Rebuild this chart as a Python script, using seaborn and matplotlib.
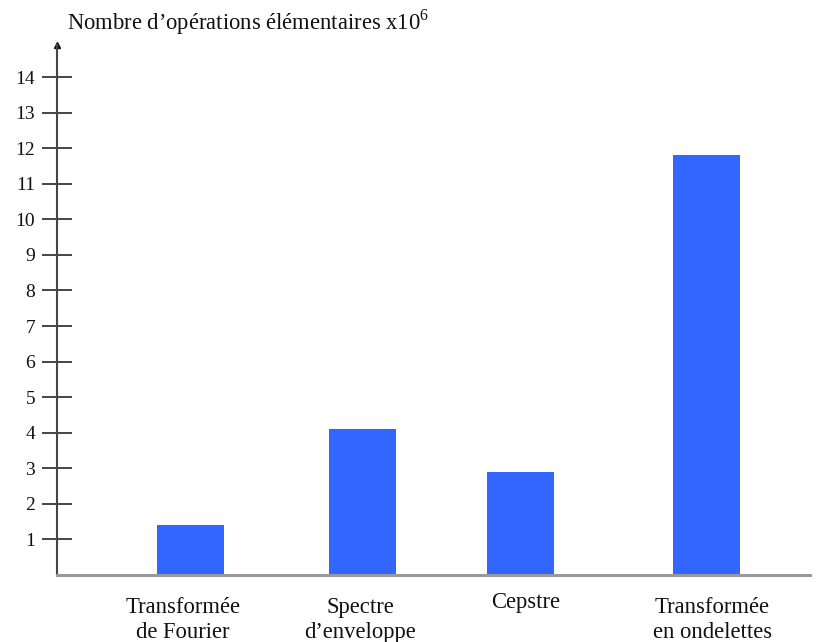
import matplotlib
matplotlib.use("Agg")
import matplotlib.pyplot as plt
import matplotlib.transforms as mtransforms
import seaborn as sns
import pandas as pd

# Chart data
methods = ["Transformée\nde Fourier", "Spectre\nd\u2019enveloppe", "Cepstre", "Transformée\nen ondelettes"]
operations = [1.4, 4.1, 2.9, 11.8]
y_ticks = list(range(1, 15))
y_label = "Nombre d\u2019opérations élémentaires x10$^{\\mathrm{6}}$"

# Layout: horizontal slot of each bar, and of each category label
slots = [0.78, 1.78, 2.70, 3.78]
label_slots = [0.735, 1.765, 2.73, 3.815]
bar_width = 0.39

sns.set_theme(style="white")
plt.rcParams["font.family"] = ["Liberation Serif", "DejaVu Serif"]
plt.rcParams["mathtext.fontset"] = "custom"
plt.rcParams["mathtext.rm"] = "Liberation Serif"

df = pd.DataFrame({"slot": slots, "ops": operations, "method": methods})

fig = plt.figure(figsize=(8.21, 6.42), dpi=100)
ax = fig.add_axes([57 / 821, 67 / 642, 753 / 821, 530 / 642])

sns.barplot(data=df, x="slot", y="ops", native_scale=True, color="#3366FF",
            saturation=1, ax=ax, edgecolor="none")

for p in ax.patches:
    c = p.get_x() + p.get_width() / 2
    p.set_width(bar_width)
    p.set_x(c - bar_width / 2)

ax.set_xlim(0, 4.385)
ax.set_ylim(0, 14.9)

ax.set_yticks(y_ticks)
ax.set_yticklabels([str(t) for t in y_ticks])
ax.set_xticks(label_slots)
ax.set_xticklabels(methods, linespacing=1.25)
ax.set_xlabel("")
ax.set_ylabel("")

ax.tick_params(axis="y", direction="inout", length=21.6, width=1.4,
               color="#454545", pad=5, labelsize=14, labelcolor="#111111", left=True)
ax.tick_params(axis="x", length=0, pad=16, labelsize=16.3, labelcolor="#111111")

# single-line label sits a little higher than the two-line ones
lift = mtransforms.ScaledTranslation(0, 4 / 72, fig.dpi_scale_trans)
for lbl in ax.get_xticklabels():
    if "\n" not in lbl.get_text():
        lbl.set_transform(lbl.get_transform() + lift)

for side in ("top", "right"):
    ax.spines[side].set_visible(False)
ax.spines["left"].set_color("#454545")
ax.spines["left"].set_linewidth(1.5)
ax.spines["bottom"].set_color("#999999")
ax.spines["bottom"].set_linewidth(2.2)

# arrow head at the top of the vertical axis
ax.plot(0, 1, marker="^", markersize=5, color="#111111",
        transform=ax.transAxes, clip_on=False)

fig.text(67 / 821, 1 - 22 / 642, y_label, fontsize=16.3, va="center",
         ha="left", color="#111111")

fig.savefig("out.png", dpi=100)
